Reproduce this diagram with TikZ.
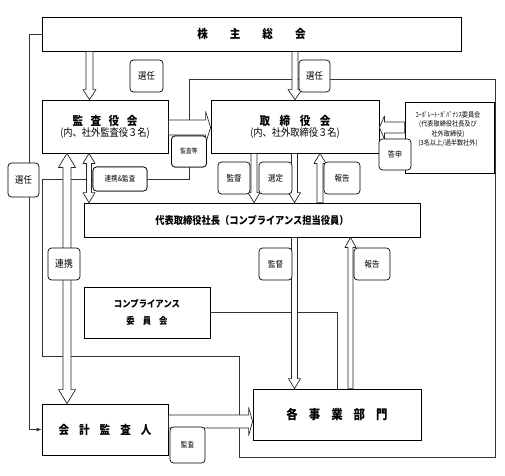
\documentclass[tikz,border=0pt]{standalone}
\usepackage{fontspec}
\setmainfont{Noto Sans CJK JP}[FakeStretch=0.88]
\usetikzlibrary{calc,arrows.meta}

\tikzset{
  box/.style={draw=black, line width=0.8pt, fill=white, inner sep=0pt, align=center},
  lab/.style={draw=black, line width=0.7pt, fill=white, rounded corners=3.5pt, inner sep=0pt,
    font=\fontsize{8.5}{9}\selectfont},
  conn/.style={draw=black!80, line width=0.7pt},
  arr/.style={draw=black!85, line width=0.7pt, fill=white, line join=round},
}

% hollow single arrow: from, to, shaft half width, head half width, head length
\newcommand\harrow[5]{%
  \path (#1) coordinate (ha) (#2) coordinate (hb);
  \coordinate (hc) at ($(hb)!#5!(ha)$);
  \filldraw[arr] ($(ha)!#3!90:(hb)$) -- ($(hc)!#3!-90:(ha)$) -- ($(hc)!#4!-90:(ha)$) -- (hb)
    -- ($(hc)!#4!90:(ha)$) -- ($(hc)!#3!90:(ha)$) -- ($(ha)!#3!-90:(hb)$) -- cycle;}
% hollow double arrow
\newcommand\dharrow[5]{%
  \path (#1) coordinate (ha) (#2) coordinate (hb);
  \coordinate (hc) at ($(hb)!#5!(ha)$);
  \coordinate (hd) at ($(ha)!#5!(hb)$);
  \filldraw[arr] (ha) -- ($(hd)!#4!90:(hb)$) -- ($(hd)!#3!90:(hb)$) -- ($(hc)!#3!-90:(ha)$)
    -- ($(hc)!#4!-90:(ha)$) -- (hb) -- ($(hc)!#4!90:(ha)$) -- ($(hc)!#3!90:(ha)$)
    -- ($(hd)!#3!-90:(hb)$) -- ($(hd)!#4!-90:(hb)$) -- cycle;}

\begin{document}
\begin{tikzpicture}[x=1pt,y=-1pt]
\useasboundingbox (0,0) rectangle (505,475);

% ---------- boxes ----------
\node[box, minimum width=419pt, minimum height=34pt, font=\fontsize{12}{12}\bfseries] (gm) at (251.5,34)
  {株\hspace{22pt}主\hspace{22pt}総\hspace{22pt}会};
\node[box, minimum width=126pt, minimum height=53pt] (kansa) at (105,126.5)
  {{\fontsize{12}{13}\bfseries 監\hspace{7.5pt}査\hspace{7.5pt}役\hspace{7.5pt}会}\\[-1pt]
   {\fontsize{10.5}{12}\selectfont (内、社外監査役３名)}};
\node[box, minimum width=168pt, minimum height=53pt] (board) at (295,126.5)
  {{\fontsize{12}{13}\bfseries 取\hspace{9.5pt}締\hspace{9.5pt}役\hspace{9.5pt}会}\\[-1pt]
   {\fontsize{10.5}{12}\selectfont (内、社外取締役３名)}};
\node[box, minimum width=89pt, minimum height=71pt] (cg) at (449.5,137.5) {};
\node[align=center, inner sep=0pt, font=\fontsize{7}{9.5}\selectfont] (cgt) at (448,129)
  {ｺｰﾎﾟﾚｰﾄ･ｶﾞﾊﾞﾅﾝｽ委員会\\(代表取締役社長及び\\社外取締役)\\(3名以上/過半数社外)};
\node[box, minimum width=336pt, minimum height=34pt, font=\fontsize{10.5}{12}\bfseries] (pres) at (252,220)
  {代表取締役社長（コンプライアンス担当役員）};
\node[box, minimum width=126pt, minimum height=51pt] (comp) at (147,312.5)
  {{\fontsize{9.5}{11}\bfseries コンプライアンス}\\[5pt]
   {\fontsize{9.5}{11}\bfseries 委\hspace{8pt}員\hspace{8pt}会}};
\node[box, minimum width=126pt, minimum height=51pt, font=\fontsize{12}{12}\bfseries] (audit) at (105,429.5)
  {会\hspace{10pt}計\hspace{10pt}監\hspace{10pt}査\hspace{10pt}人};
\node[box, minimum width=168pt, minimum height=51pt, font=\fontsize{13}{13}\bfseries] (div) at (337,414.5)
  {各\hspace{11pt}事\hspace{11pt}業\hspace{11pt}部\hspace{11pt}門};

% ---------- label nodes (positions only, drawn later on top) ----------
\path
  node[lab, minimum width=54pt, minimum height=24pt, font=\fontsize{7.5}{8}\selectfont] (renkan) at (120,179) {連携\&監査}
  node[lab, minimum width=35pt, minimum height=31pt, font=\fontsize{6.5}{7}\selectfont] (kansato) at (189,151.5) {監査等};

% ---------- thin connectors ----------
\draw[conn, -{Latex[length=5pt,width=4pt]}] (gm.west) -- ++(-12,0) coordinate (c1) |- (audit.west);

\coordinate (k2b) at (189,120);
\coordinate (r1) at (495,79);
\coordinate (r2) at (495,457);
\coordinate (r3) at (239,457);
\coordinate (r4) at (239,356);
\coordinate (r5) at (42,356);
\draw[conn] (k2b) |- (r1) -- (r2) -- (r3) -- (r4) -- (r5) |- (renkan.west);
\draw[conn] (renkan.east) -| (kansato.south);
\draw[conn] (comp.east) -| (div.north);

% ---------- hollow arrows ----------
\harrow{gm.south -| 89.5,0}{kansa.north -| 89.5,0}{3.5pt}{6.5pt}{10pt}
\harrow{gm.south -| 295,0}{board.north -| 295,0}{3pt}{7pt}{10pt}
\harrow{kansa.east |- 0,127.5}{board.west |- 0,127.5}{7.5pt}{16pt}{5pt}
\harrow{cg.west |- 0,127.5}{board.east |- 0,127.5}{5.5pt}{11.5pt}{5pt}
\dharrow{kansa.south -| 89,0}{pres.north -| 89,0}{2.5pt}{6pt}{10pt}
\dharrow{kansa.south -| 67,0}{audit.north -| 67,0}{4pt}{8.5pt}{14pt}
\harrow{board.south -| 254,0}{pres.north -| 254,0}{3pt}{6pt}{10pt}
\harrow{board.south -| 294.5,0}{pres.north -| 294.5,0}{3pt}{6pt}{10pt}
\harrow{pres.north -| 320,0}{board.south -| 320,0}{3pt}{6pt}{10pt}
\harrow{pres.south -| 294.5,0}{div.north -| 294.5,0}{3pt}{6pt}{10pt}
\harrow{div.north -| 350.5,0}{pres.south -| 350.5,0}{2.5pt}{5.5pt}{10pt}
\harrow{audit.east |- 0,421.5}{div.west |- 0,421.5}{6.5pt}{14pt}{4pt}

% ---------- labels on top ----------
\node[lab, minimum width=54pt, minimum height=24pt, font=\fontsize{7.5}{8}\selectfont] at (renkan) {連携\&監査};
\node[lab, minimum width=35pt, minimum height=31pt, font=\fontsize{6.5}{7}\selectfont] at (kansato) {監査等};
\node[lab, minimum width=33pt, minimum height=32pt, font=\fontsize{9.5}{10}\selectfont] (sen1) at (146.5,76) {選任};
\node[lab, minimum width=31pt, minimum height=32pt, font=\fontsize{9.5}{10}\selectfont] (sen2) at (314.5,76) {選任};
\node[lab, minimum width=32pt, minimum height=31pt, font=\fontsize{8}{9}\selectfont] (tousin) at (395,154.5) {答申};
\node[lab, minimum width=31pt, minimum height=34pt, font=\fontsize{9.5}{10}\selectfont] (sen3) at (23.5,180) {選任};
\node[lab, minimum width=32pt, minimum height=32pt] (kantoku1) at (234,178) {監督};
\node[lab, minimum width=33pt, minimum height=32pt] (sentei) at (275.5,178) {選定};
\node[lab, minimum width=36pt, minimum height=32pt] (houkoku1) at (342,178) {報告};
\node[lab, minimum width=32pt, minimum height=32pt, font=\fontsize{10}{11}\selectfont] (renkei) at (64,264) {連携};
\node[lab, minimum width=33pt, minimum height=32pt] (kantoku2) at (275.5,264) {監督};
\node[lab, minimum width=36pt, minimum height=32pt] (houkoku2) at (372,264) {報告};
\node[lab, minimum width=35pt, minimum height=36pt, font=\fontsize{7.5}{8}\selectfont] (kansa2) at (187.5,445) {監査};
\end{tikzpicture}
\end{document}
